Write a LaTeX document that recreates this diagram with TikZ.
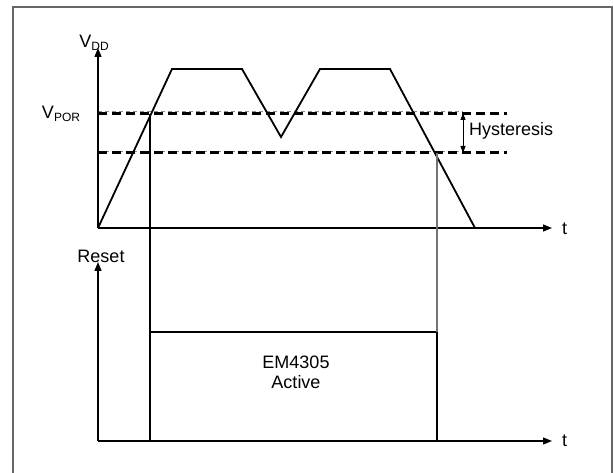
\documentclass[tikz,border=0pt]{standalone}
\usepackage{fontspec}
\setmainfont{Liberation Sans}
\usetikzlibrary{arrows.meta}
\newcommand{\subtxt}[1]{\lower3.5pt\hbox{\fontsize{12}{12}\selectfont #1}}
\begin{document}
\begin{tikzpicture}[x=1pt,y=-1pt, line join=miter,
  axis/.style={line width=1.4pt,-{Triangle[length=9pt,width=7pt]}},
  sig/.style={line width=1.8pt},
  thresh/.style={line width=3pt,dash pattern=on 9pt off 5pt},
  ghost/.style={line width=0.8pt,black!45,dash pattern=on 4pt off 3pt},
  lbl/.style={font=\fontsize{18}{20}\selectfont, inner sep=0pt}]
\useasboundingbox (0,0) rectangle (614,473);
\draw[line width=1.4pt, black!60] (13,480) -- (13,7) -- (612,7) -- (612,480);
% coordinates
\coordinate (o1) at (98,228);
\coordinate (vtop) at (98,48);
\coordinate (t1e) at (552,228);
\coordinate (o2) at (98,441);
\coordinate (rtop) at (98,262);
\coordinate (t2e) at (552,441);
\coordinate (p1) at (172,69);
\coordinate (p2) at (242,69);
\coordinate (p3) at (281,137);
\coordinate (p4) at (320,69);
\coordinate (p5) at (390,69);
\coordinate (p6) at (475,228);
\coordinate (hi0) at (98,114);
\coordinate (hi1) at (507,114);
\coordinate (lo0) at (98,153);
\coordinate (lo1) at (507,153);
\coordinate (ghi0) at (98,111);
\coordinate (ghi1) at (463,111);
\coordinate (glo0) at (98,151);
\coordinate (glo1) at (463,151);
\coordinate (rise) at (150,114);
\coordinate (rlow) at (150,441);
\coordinate (rhigh) at (150,332);
\coordinate (fhigh) at (437,332);
\coordinate (flow) at (437,441);
\coordinate (fend) at (528,441);
\coordinate (fcross) at (437,153);
\coordinate (ha) at (463,113);
\coordinate (hb) at (463,153);
% thresholds
\draw[ghost] (ghi0) -- (ghi1);
\draw[ghost] (glo0) -- (glo1);
\draw[thresh] (hi0) -- (hi1);
\draw[thresh] (lo0) -- (lo1);
% axes
\draw[axis] (o1) -- (vtop);
\draw[axis] (o1) -- (t1e);
\draw[axis] (o2) -- (rtop);
\draw[axis] (o2) -- (t2e);
% VDD curve
\draw[sig] (o1) -- (p1) -- (p2) -- (p3) -- (p4) -- (p5) -- (p6);
% reset signal
\draw[sig] (rise) -- (rlow);
\draw[sig] (rhigh) -- (fhigh) -- (flow) -- (fend);
\draw[line width=1.2pt, black!55] (fcross) -- (fhigh);
% hysteresis arrow
\draw[line width=1pt,{Triangle[length=7pt,width=5pt]}-{Triangle[length=7pt,width=5pt]}] (ha) -- (hb);
% labels
\node[lbl] (vdd) at (94,43) {V\subtxt{DD}};
\node[lbl] (vpor) at (61,114) {V\subtxt{POR}};
\node[lbl, anchor=west] (hyst) at (469,131) {Hysteresis};
\node[lbl, anchor=west] (tt1) at (562,229) {t};
\node[lbl, anchor=west] (tt2) at (562,441) {t};
\node[lbl] (reset) at (101,256) {Reset};
\node[lbl, align=center] (em) at (296,372) {EM4305\\Active};
\end{tikzpicture}
\end{document}
